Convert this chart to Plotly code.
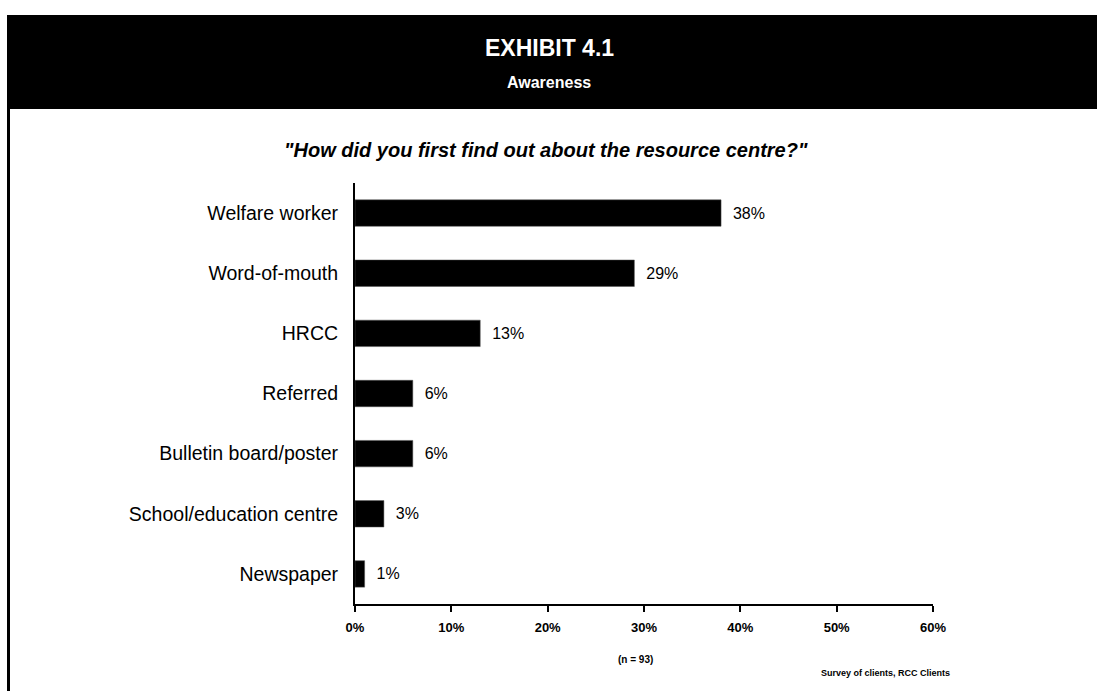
import plotly.graph_objects as go

# Survey responses: how respondents first learned about the resource centre
categories = [
    "Welfare worker",
    "Word-of-mouth",
    "HRCC",
    "Referred",
    "Bulletin board/poster",
    "School/education centre",
    "Newspaper",
]
percentages = [38, 29, 13, 6, 6, 3, 1]
tick_values = [0, 10, 20, 30, 40, 50, 60]
tick_labels = ["0%", "10%", "20%", "30%", "40%", "50%", "60%"]

W, H = 1097, 691
L, R, T, B = 355, 164, 183, 87
PW, PH = W - L - R, H - T - B


def px(x):
    return (x - L) / PW


def py(y):
    return 1 - (y - T) / PH


FONT = "Arial, Liberation Sans, sans-serif"
NBSP = "\u00a0"

fig = go.Figure(
    go.Bar(
        y=categories,
        x=percentages,
        orientation="h",
        marker=dict(color="black", line=dict(color="#555555", width=0.5)),
        width=0.44,
        text=[f"{NBSP * 2}{v}%" for v in percentages],
        textposition="outside",
        textfont=dict(family=FONT, size=16, color="black"),
        cliponaxis=False,
    )
)

shapes = [
    # black header band
    dict(type="rect", xref="paper", yref="paper",
         x0=px(7), x1=px(1097), y0=py(109), y1=py(15),
         fillcolor="black", line=dict(width=0), layer="below"),
    # left frame line
    dict(type="rect", xref="paper", yref="paper",
         x0=px(7), x1=px(10), y0=py(691), y1=py(109),
         fillcolor="black", line=dict(width=0), layer="below"),
]

annotations = [
    dict(text="<b>EXHIBIT 4.1</b>", x=px(549), y=py(48), xref="paper", yref="paper",
         showarrow=False, font=dict(family=FONT, size=23, color="white"),
         xanchor="center", yanchor="middle"),
    dict(text="<b>Awareness</b>", x=px(549), y=py(82), xref="paper", yref="paper",
         showarrow=False, font=dict(family=FONT, size=16, color="white"),
         xanchor="center", yanchor="middle"),
    dict(text="<b><i>\"How did you first find out about the resource centre?\"</i></b>",
         x=px(546), y=py(150), xref="paper", yref="paper",
         showarrow=False, font=dict(family=FONT, size=20, color="black"),
         xanchor="center", yanchor="middle"),
    dict(text="<b>(n = 93)</b>", x=px(635), y=py(659), xref="paper", yref="paper",
         showarrow=False, font=dict(family=FONT, size=10, color="black"),
         xanchor="center", yanchor="middle"),
    dict(text="<b>Survey of clients, RCC Clients</b>", x=px(952), y=py(673),
         xref="paper", yref="paper", showarrow=False,
         font=dict(family=FONT, size=9, color="black"),
         xanchor="right", yanchor="middle"),
]

fig.update_layout(
    width=W, height=H,
    margin=dict(l=L, r=R, t=T, b=B, pad=0),
    paper_bgcolor="white", plot_bgcolor="white",
    showlegend=False,
    shapes=shapes,
    annotations=annotations,
    xaxis=dict(
        range=[0, 60], tickvals=tick_values, ticktext=tick_labels,
        showgrid=False, zeroline=False, showline=True, linecolor="black", linewidth=2,
        ticks="outside", ticklen=6, tickwidth=2, tickcolor="black",
        ticklabelstandoff=4,
        tickfont=dict(family=FONT, size=13, color="black", weight="bold"),
        fixedrange=True,
    ),
    yaxis=dict(
        categoryorder="array", categoryarray=categories[::-1],
        range=[-0.5, 6.5],
        showgrid=False, zeroline=False, showline=True, linecolor="black", linewidth=2,
        ticks="", ticklabelstandoff=11,
        tickfont=dict(family=FONT, size=19.5, color="black"),
        fixedrange=True,
    ),
)

fig.write_html("out.html")
